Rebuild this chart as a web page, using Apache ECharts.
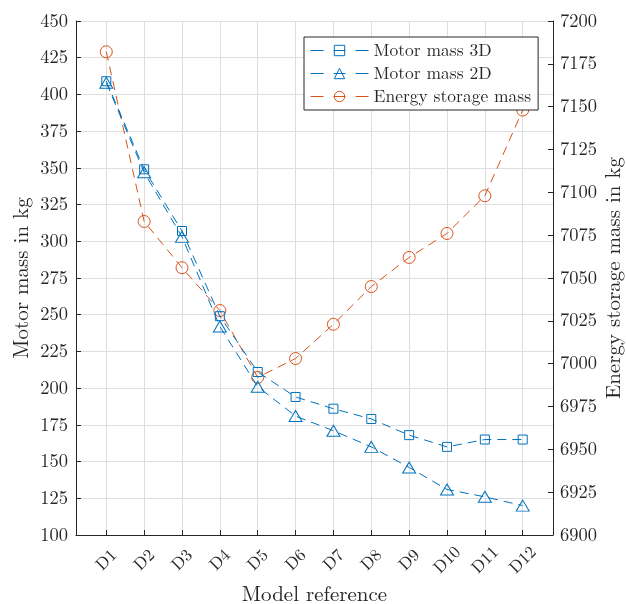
<!DOCTYPE html>
<html>
<head>
<meta charset="utf-8">
<script src="https://cdn.jsdelivr.net/npm/echarts@6/dist/echarts.min.js"></script>
<style>html,body{margin:0;padding:0;background:#fff;}#c{width:626px;height:604px;}</style>
</head>
<body>
<div id="c"></div>
<script>
const categories = ['D1','D2','D3','D4','D5','D6','D7','D8','D9','D10','D11','D12'];
const motor3D = [409, 349, 307, 249, 211, 194, 186, 179, 168, 160, 165, 165];
const motor2D = [408, 347, 303, 242, 201, 181, 171, 160, 146, 131, 126, 120];
const energyStorage = [7182, 7083, 7056, 7031, 6992, 7003, 7023, 7045, 7062, 7076, 7098, 7148];
const leftTicks = [100, 450, 25];
const rightTicks = [6900, 7200, 25];

const positions = categories.map((c, i) => i + 1);
const pairs = arr => arr.map((v, i) => [positions[i], v]);

const FONT = '"Latin Modern Roman", "Liberation Serif", "DejaVu Serif", serif';
const TXT = '#262626';
const BLUE = '#0072BD';
const ORANGE = '#D95319';

const chart = echarts.init(document.getElementById('c'), null, {renderer: 'canvas'});
chart.setOption({
  animation: false,
  backgroundColor: '#ffffff',
  textStyle: {fontFamily: FONT, color: TXT},
  grid: {left: 76, right: 73, top: 21, bottom: 69, containLabel: false, outerBoundsMode: 'none'},
  legend: {
    left: 304, top: 37,
    orient: 'vertical',
    backgroundColor: '#ffffff',
    borderColor: '#262626', borderWidth: 1, borderRadius: 0,
    padding: [3, 7, 3, 6],
    itemWidth: 58, itemHeight: 13, itemGap: 2,
    lineStyle: {width: 1, type: [13, 10, 12, 10, 13]},
    itemStyle: {borderWidth: 1},
    textStyle: {fontFamily: FONT, fontSize: 17.5, color: TXT, padding: [0, 0, 0, 0], lineHeight: 21},
    data: ['Motor mass 3D', 'Motor mass 2D', 'Energy storage mass']
  },
  xAxis: {
    type: 'value', min: 0.2, max: 12.8,
    name: 'Model reference', nameLocation: 'middle', nameGap: 49, nameMoveOverlap: false,
    nameTextStyle: {fontFamily: FONT, fontSize: 21, color: TXT},
    axisLine: {show: true, onZero: false, lineStyle: {color: TXT, width: 1}},
    axisTick: {show: true, inside: true, length: 5, customValues: positions, lineStyle: {color: TXT}},
    axisLabel: {
      customValues: positions, rotate: 45, margin: 25,
      align: 'center', verticalAlign: 'middle',
      fontFamily: FONT, fontSize: 17, color: TXT,
      formatter: v => categories[Math.round(v) - 1] || ''
    },
    splitLine: {show: true, lineStyle: {color: '#dedede', width: 1}}
  },
  yAxis: [{
    type: 'value', min: leftTicks[0], max: leftTicks[1], interval: leftTicks[2],
    name: 'Motor mass in kg', nameLocation: 'middle', nameGap: 44, nameRotate: 90, nameMoveOverlap: false,
    nameTextStyle: {fontFamily: FONT, fontSize: 21, color: TXT},
    axisLine: {show: true, lineStyle: {color: TXT, width: 1}},
    axisTick: {show: true, inside: true, length: 5, lineStyle: {color: TXT}},
    axisLabel: {margin: 8, fontFamily: FONT, fontSize: 18.5, color: TXT},
    splitLine: {show: true, lineStyle: {color: '#dedede', width: 1}}
  }, {
    type: 'value', position: 'right', min: rightTicks[0], max: rightTicks[1], interval: rightTicks[2],
    name: 'Energy storage mass in kg', nameLocation: 'middle', nameGap: 50, nameRotate: 90, nameMoveOverlap: false,
    nameTextStyle: {fontFamily: FONT, fontSize: 21, color: TXT},
    axisLine: {show: true, lineStyle: {color: TXT, width: 1}},
    axisTick: {show: true, inside: true, length: 5, lineStyle: {color: TXT}},
    axisLabel: {margin: 7, fontFamily: FONT, fontSize: 18.5, color: TXT, formatter: v => String(v)},
    splitLine: {show: false}
  }],
  series: [{
    name: 'Motor mass 3D', type: 'line', yAxisIndex: 0,
    data: pairs(motor3D),
    symbol: 'rect', symbolSize: 9,
    itemStyle: {color: 'rgba(255,255,255,0)', borderColor: BLUE, borderWidth: 1},
    lineStyle: {color: BLUE, width: 1, type: [9, 6]},
    z: 3
  }, {
    name: 'Motor mass 2D', type: 'line', yAxisIndex: 0,
    data: pairs(motor2D),
    symbol: 'triangle', symbolSize: [13, 11],
    itemStyle: {color: 'rgba(255,255,255,0)', borderColor: BLUE, borderWidth: 1},
    lineStyle: {color: BLUE, width: 1, type: [9, 6]},
    z: 3
  }, {
    name: 'Energy storage mass', type: 'line', yAxisIndex: 1,
    data: pairs(energyStorage),
    symbol: 'circle', symbolSize: 12,
    itemStyle: {color: 'rgba(255,255,255,0)', borderColor: ORANGE, borderWidth: 1},
    lineStyle: {color: ORANGE, width: 1, type: [9, 6]},
    z: 2
  }]
});
</script>
</body>
</html>
